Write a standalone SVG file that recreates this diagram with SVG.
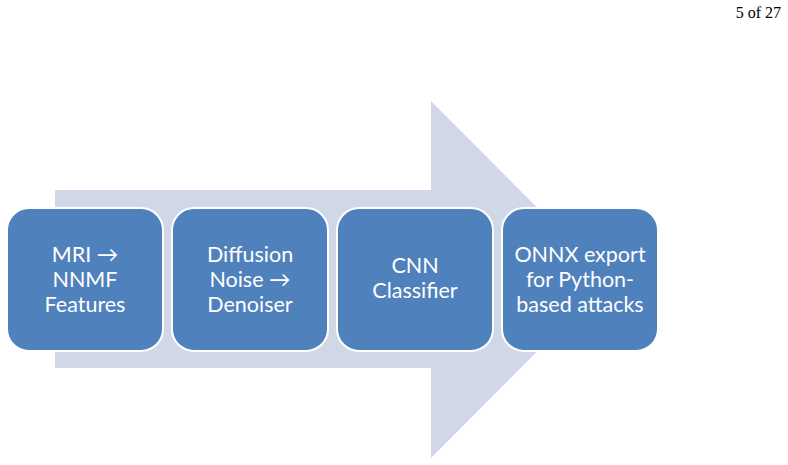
<svg xmlns="http://www.w3.org/2000/svg" width="788" height="465" viewBox="0 0 788 465">
<style>
.box{fill:#4F81BD;stroke:#FFFFFF;stroke-width:2}
.lbl{font-family:Lato,"Liberation Sans",sans-serif;font-size:21.5px;fill:#FFFFFF;text-anchor:middle}
.pg{font-family:"Liberation Serif",serif;font-size:16px;fill:#000000;text-anchor:end}
</style>
<rect width="788" height="465" fill="#FFFFFF"/>
<text class="pg" x="781" y="18">5 of 27</text>
<g id="connectors">
<polygon id="arrow" points="55,190 431,190 431,101 609,279.5 431,458 431,368 55,368" fill="#D0D8E8"/>
</g>
<g id="node1">
<rect class="box" x="7" y="208" width="156" height="143" rx="22"/>
<text class="lbl" x="85" y="262">MRI →</text>
<text class="lbl" x="85" y="287">NNMF</text>
<text class="lbl" x="85" y="312">Features</text>
</g>
<g id="node2">
<rect class="box" x="172" y="208" width="156" height="143" rx="22"/>
<text class="lbl" x="250" y="262">Diffusion</text>
<text class="lbl" x="250" y="287">Noise →</text>
<text class="lbl" x="250" y="312">Denoiser</text>
</g>
<g id="node3">
<rect class="box" x="337" y="208" width="156" height="143" rx="22"/>
<text class="lbl" x="415" y="273">CNN</text>
<text class="lbl" x="415" y="298">Classifier</text>
</g>
<g id="node4">
<rect class="box" x="502" y="208" width="156" height="143" rx="22"/>
<text class="lbl" x="580" y="262">ONNX export</text>
<text class="lbl" x="580" y="287">for Python-</text>
<text class="lbl" x="580" y="312">based attacks</text>
</g>
</svg>
